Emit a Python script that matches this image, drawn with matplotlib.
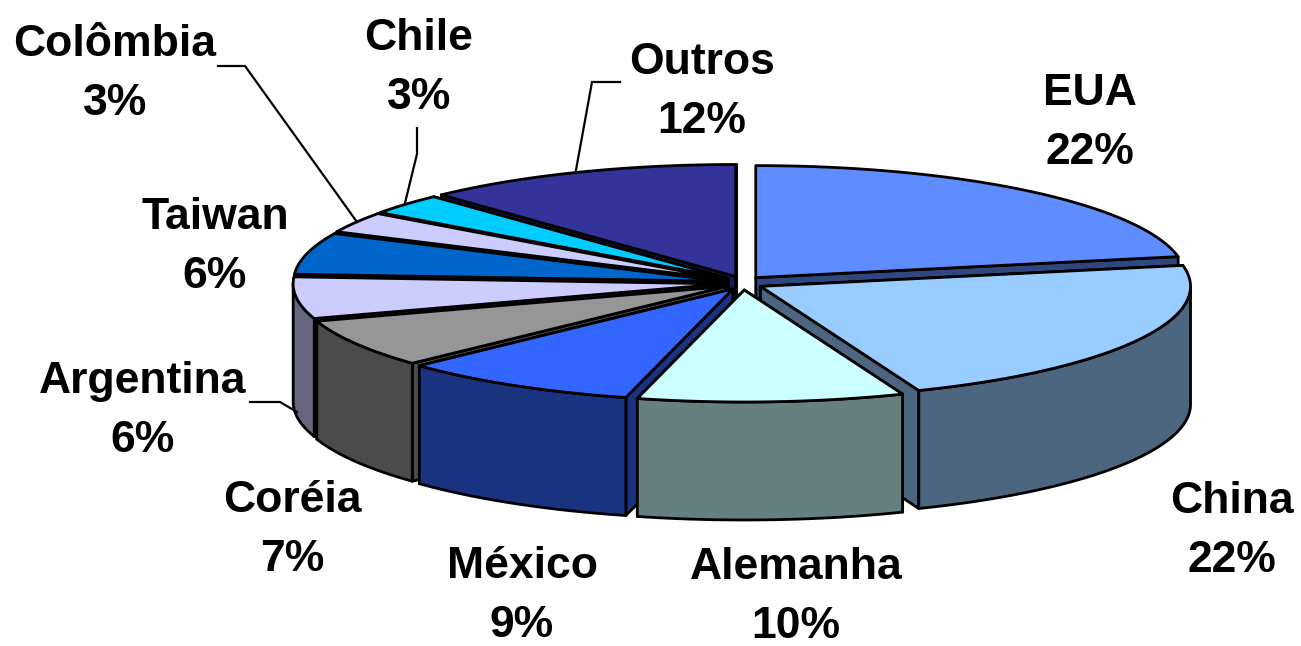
import numpy as np
import matplotlib
matplotlib.use("Agg")
import matplotlib.pyplot as plt
from matplotlib.patches import Polygon

categories = ["EUA", "China", "Alemanha", "México", "Coréia", "Argentina", "Taiwan", "Colômbia", "Chile", "Outros"]
values = [22, 22, 10, 9, 7, 6, 6, 3, 3, 12]
top_colors = ["#5F8CFF", "#99CCFF", "#CCFFFF", "#3366FF", "#969696", "#CCCCFF", "#0066CC", "#CCCCFF", "#00CCFF", "#333399"]
side_colors = ["#30467F", "#4D6680", "#668080", "#1A3380", "#4B4B4B", "#666680", "#003366", "#666680", "#006680", "#1A1A4D"]
label_xy = [(1090, 123), (1232, 531), (796, 597), (522, 596), (292, 530), (143, 411), (215, 247), (115, 74), (419, 68), (702, 92)]
leaders = [[(250, 402), (280, 402), (297, 412)],
           [(218, 66), (245, 66), (357, 222)],
           [(417, 128), (417, 154), (405, 203)],
           [(620, 82), (592, 82), (576, 170)]]

CX, CY, RX, RY, DEPTH = 743, 283, 430, 112, 118
EX, EY = 20, 7
LW = 2.0

fig = plt.figure(figsize=(13.01, 6.46), dpi=100, facecolor="white")
ax = fig.add_axes([0, 0, 1, 1])
ax.set_xlim(0, 1301)
ax.set_ylim(646, 0)
ax.axis("off")

fractions = np.array(values) / sum(values)
ends = np.cumsum(fractions) * 2 * np.pi
starts = ends - fractions * 2 * np.pi
mids = (starts + ends) / 2


def rim(t, cx, cy):
    return np.column_stack([cx + RX * np.sin(t), cy - RY * np.cos(t)])


def face(pts, color):
    ax.add_patch(Polygon(pts, closed=True, facecolor=color, edgecolor="black",
                         linewidth=LW, joinstyle="round"))


down = np.array([0, DEPTH])
for i in np.argsort(-np.cos(mids)):
    cx = CX + EX * np.sin(mids[i])
    cy = CY - EY * np.cos(mids[i])
    tip = np.array([cx, cy])
    # cut faces, the one further back first
    cut_pts = [rim(np.array([a]), cx, cy)[0] for a in (starts[i], ends[i])]
    for p in sorted(cut_pts, key=lambda q: q[1]):
        face([tip, p, p + down, tip + down], side_colors[i])
    # outer wall (front half of the rim only)
    lo, hi = max(starts[i], np.pi / 2), min(ends[i], 3 * np.pi / 2)
    if hi > lo:
        arc = rim(np.linspace(lo, hi, 80), cx, cy)
        face(np.vstack([arc, (arc + down)[::-1]]), side_colors[i])
    # top
    arc = rim(np.linspace(starts[i], ends[i], 120), cx, cy)
    face(np.vstack([tip, arc]), top_colors[i])

for pts in leaders:
    xs, ys = zip(*pts)
    ax.plot(xs, ys, color="black", lw=1.6, solid_joinstyle="miter")

for name, v, (x, y) in zip(categories, values, label_xy):
    ax.text(x, y, f"{name}\n{v}%", ha="center", va="center", family="Liberation Sans",
            fontweight="bold", fontsize=32, color="black", linespacing=1.55)

fig.savefig("out.png", dpi=100, facecolor="white")
